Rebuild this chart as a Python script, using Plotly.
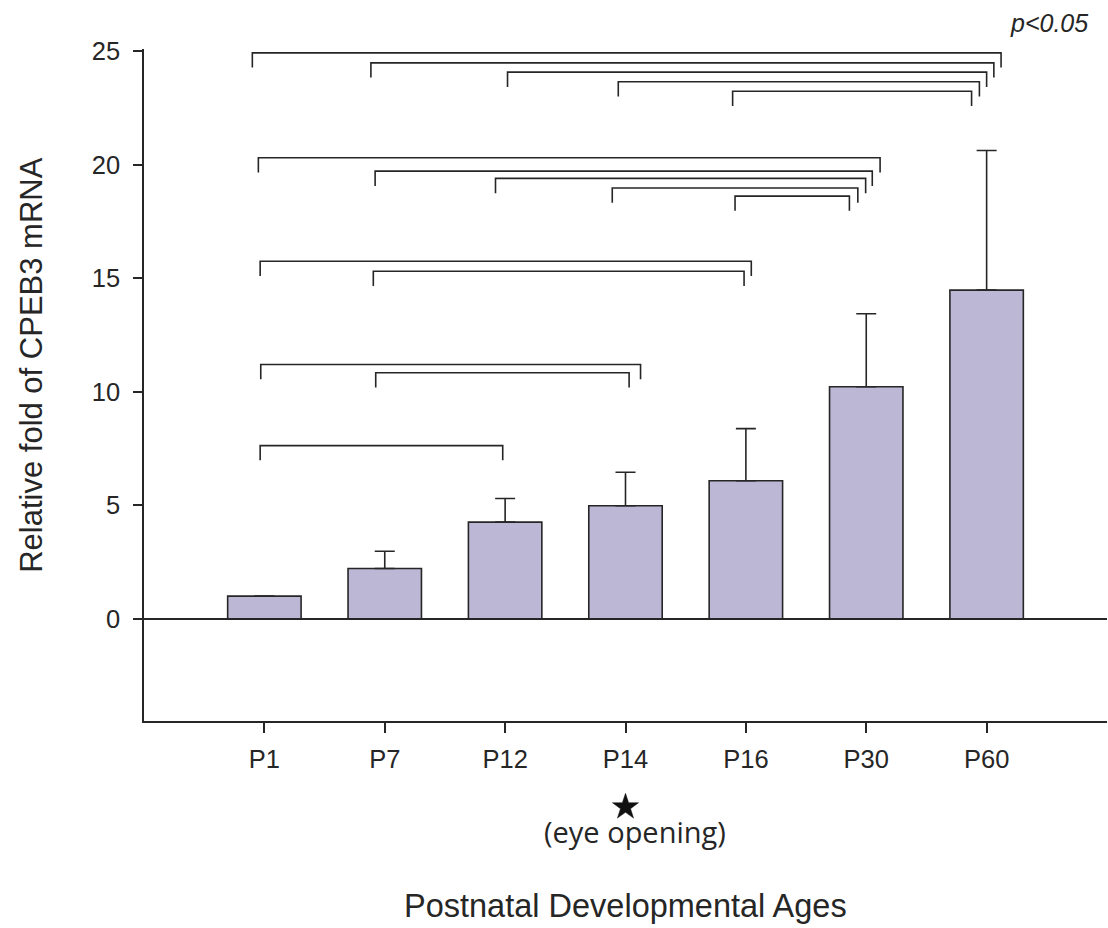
import math
import plotly.graph_objects as go

# Relative CPEB3 mRNA expression across postnatal ages (mean + SEM)
ages = ["P1", "P7", "P12", "P14", "P16", "P30", "P60"]
fold_mean = [1.0, 2.22, 4.26, 4.98, 6.08, 10.22, 14.48]
fold_err = [None, 0.76, 1.04, 1.48, 2.30, 3.22, 6.15]

# Significant pairwise comparisons (p<0.05): start age, end age, bracket height
cmp_from = ["P1", "P7", "P12", "P14", "P16",
            "P1", "P7", "P12", "P14", "P16",
            "P1", "P7",
            "P1", "P7",
            "P1"]
cmp_to = ["P60", "P60", "P60", "P60", "P60",
          "P30", "P30", "P30", "P30", "P30",
          "P16", "P16",
          "P14", "P14",
          "P12"]
cmp_level = [24.93, 24.49, 24.08, 23.66, 23.24,
             20.31, 19.72, 19.40, 18.98, 18.62,
             15.75, 15.31,
             11.20, 10.84,
             7.63]

# small horizontal nudges so nested brackets do not overlap at their ends
nudge_left = [-0.10, -0.115, 0.02, -0.06, -0.11,
              -0.05, -0.08, -0.08, -0.11, -0.09,
              -0.035, -0.095,
              -0.03, -0.075,
              -0.035]
nudge_right = [0.12, 0.06, 0.0, -0.06, -0.125,
               0.115, 0.05, -0.005, -0.07, -0.14,
               0.045, -0.015,
               0.125, 0.03,
               -0.02]
drop = 0.65

# the eye-opening age is flagged with a star under the axis
eye_opening_age = "P14"

INK = "#262626"
FONT = "Liberation Sans, Arial, sans-serif"

W, H = 1108, 928
M_L, M_R, M_T, M_B = 144, 1, 49, 207
X_RANGE = [-1, 7]
PLOT_W = W - M_L - M_R
PLOT_H = H - M_T - M_B

xpos = list(range(len(ages)))
idx = {a: i for i, a in enumerate(ages)}

fig = go.Figure()
fig.add_trace(go.Bar(
    x=xpos, y=fold_mean, width=0.61,
    marker=dict(color="#bdb7d6", line=dict(color=INK, width=1.6)),
    error_y=dict(type="data", symmetric=False, array=fold_err,
                 arrayminus=[0] * len(ages), color=INK, thickness=1.6, width=10),
    showlegend=False, hoverinfo="skip",
))

shapes = []
for a, b, lvl, nl, nr in zip(cmp_from, cmp_to, cmp_level, nudge_left, nudge_right):
    xl = idx[a] + nl
    xr = idx[b] + nr
    path = f"M {xl} {lvl - drop} L {xl} {lvl} L {xr} {lvl} L {xr} {lvl - drop}"
    shapes.append(dict(type="path", path=path, xref="x", yref="y",
                       line=dict(color=INK, width=1.6)))

# five-pointed star under the eye-opening tick, built in paper coordinates
star_cx = (idx[eye_opening_age] - X_RANGE[0]) / (X_RANGE[1] - X_RANGE[0])
star_cy = -86.0 / PLOT_H          # px below the x axis line
r_out, r_in = 13.7, 5.3           # px
pts = []
for k in range(10):
    ang = math.radians(90 + 36 * k)
    rad = r_out if k % 2 == 0 else r_in
    pts.append((star_cx + rad * math.cos(ang) / PLOT_W,
                star_cy + rad * math.sin(ang) / PLOT_H))
star_path = "M " + " L ".join(f"{px:.5f} {py:.5f}" for px, py in pts) + " Z"
shapes.append(dict(type="path", path=star_path, xref="paper", yref="paper",
                   fillcolor="#111111", line=dict(color="#111111", width=0.5)))

annotations = [
    dict(text="Relative fold of CPEB3 mRNA", textangle=-90, xref="paper", yref="paper",
         x=-0.117, y=0.5305, xanchor="center", yanchor="middle", showarrow=False,
         font=dict(family=FONT, size=31, color=INK)),
    dict(text="Postnatal Developmental Ages", xref="paper", yref="paper",
         x=0.5003, y=-0.2756, xanchor="center", yanchor="middle", showarrow=False,
         font=dict(family=FONT, size=32.5, color=INK)),
    dict(text="(eye opening)", xref="paper", yref="paper", x=0.5099, y=-0.165,
         xanchor="center", yanchor="middle", showarrow=False,
         font=dict(family="Open Sans", size=29, color=INK)),
    dict(text="<i>p&lt;0.05</i>", xref="paper", yref="paper", x=0.9398, y=1.0394,
         xanchor="center", yanchor="middle", showarrow=False,
         font=dict(family=FONT, size=25, color=INK)),
]

fig.update_layout(
    width=W, height=H,
    margin=dict(l=M_L, r=M_R, t=M_T, b=M_B),
    paper_bgcolor="white", plot_bgcolor="white",
    shapes=shapes, annotations=annotations,
    bargap=0.39,
)
fig.update_xaxes(
    range=X_RANGE, tickvals=xpos, ticktext=ages,
    showline=True, linecolor=INK, linewidth=1.6,
    ticks="outside", ticklen=10, tickwidth=1.6, tickcolor=INK,
    ticklabelstandoff=5,
    showgrid=False, zeroline=False,
    tickfont=dict(family=FONT, size=25.5, color=INK),
)
fig.update_yaxes(
    range=[-4.5, 25.1], tickvals=[0, 5, 10, 15, 20, 25],
    showline=True, linecolor=INK, linewidth=1.6,
    ticks="outside", ticklen=9, tickwidth=1.6, tickcolor=INK,
    ticklabelstandoff=8,
    showgrid=False, zeroline=True, zerolinecolor=INK, zerolinewidth=1.6,
    tickfont=dict(family=FONT, size=25.5, color=INK),
)

fig.write_html("out.html")
